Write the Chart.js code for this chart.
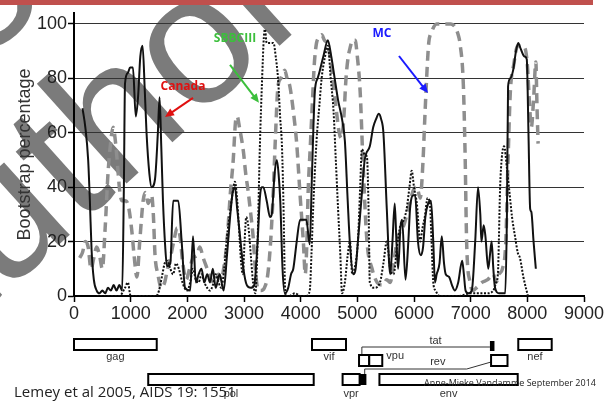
<!DOCTYPE html>
<html>
<head>
<meta charset="utf-8">
<script src="https://cdn.jsdelivr.net/npm/chart.js@4.4.0/dist/chart.umd.min.js"></script>
<style>
  body { margin: 0; background: #fff; }
  #wrap { width: 614px; height: 412px; }
</style>
</head>
<body>
<div id="wrap"><canvas id="bootscan" width="614" height="412"></canvas></div>
<script>
// genome position (nt) and bootstrap %, one pair of arrays per query
const canadaPos = [150, 200, 250, 280, 310, 350, 400, 450, 500, 550, 600, 650, 700, 750, 800, 850, 880, 900, 950, 990, 1040, 1090, 1130, 1170, 1210, 1250, 1280, 1330, 1370, 1430, 1480, 1510, 1540, 1570, 1610, 1640, 1700, 1750, 1790, 1840, 1900, 1960, 2050, 2100, 2150, 2200, 2250, 2300, 2350, 2400, 2450, 2500, 2570, 2640, 2700, 2750, 2800, 2840, 2880, 2930, 2990, 3050, 3120, 3180, 3240, 3280, 3310, 3340, 3400, 3460, 3490, 3540, 3580, 3610, 3640, 3680, 3720, 3780, 3830, 3870, 3930, 3990, 4050, 4100, 4160, 4200, 4250, 4300, 4340, 4400, 4480, 4540, 4600, 4660, 4730, 4780, 4830, 4870, 4930, 4970, 5010, 5070, 5130, 5220, 5280, 5330, 5380, 5420, 5460, 5520, 5580, 5620, 5660, 5690, 5720, 5760, 5790, 5850, 5900, 5930, 5990, 6020, 6070, 6120, 6160, 6200, 6250, 6300, 6340, 6370, 6400, 6450, 6490, 6530, 6560, 6620, 6670, 6720, 6780, 6850, 6880, 6910, 6960, 7020, 7080, 7130, 7170, 7190, 7230, 7260, 7310, 7340, 7370, 7400, 7430, 7500, 7560, 7610, 7640, 7660, 7700, 7750, 7800, 7840, 7880, 7950, 7990, 8020, 8050, 8070, 8110, 8150];
const canadaVal = [69, 62, 50, 35, 17, 6, 2, 1, 2, 1, 3, 2, 4, 2, 4, 2, 40, 78, 82, 84, 84, 66, 73, 88, 92, 75, 60, 45, 40, 43, 60, 73, 55, 35, 18, 11, 12, 35, 35, 35, 20, 3, 2, 22, 5, 8, 10, 5, 8, 5, 10, 3, 8, 2, 15, 28, 38, 40, 32, 22, 10, 4, 3, 4, 20, 36, 40, 40, 35, 29, 30, 45, 50, 45, 35, 10, 1, 3, 8, 10, 20, 28, 28, 28, 19, 45, 75, 80, 83, 88, 94, 88, 80, 72, 65, 57, 35, 19, 8, 10, 20, 35, 50, 55, 62, 65, 67, 65, 60, 32, 8, 20, 34, 20, 10, 25, 28, 6, 20, 32, 37, 37, 20, 15, 18, 29, 34, 35, 20, 5, 8, 12, 22, 12, 8, 7, 4, 2, 5, 13, 8, 2, 1, 2, 20, 40, 30, 20, 26, 22, 10, 15, 20, 10, 3, 1, 1, 1, 30, 77, 80, 83, 90, 93, 91, 88, 87, 60, 32, 31, 20, 10];

const sbbPos = [400, 800, 900, 950, 1000, 1450, 1500, 1560, 1600, 1650, 1700, 1750, 1800, 1850, 1900, 1950, 2000, 2050, 2100, 2150, 2200, 2250, 2300, 2350, 2400, 2450, 2500, 2550, 2600, 2650, 2700, 2750, 2800, 2840, 2880, 2920, 2950, 2980, 3010, 3040, 3080, 3120, 3160, 3200, 3240, 3280, 3320, 3350, 3370, 3400, 3450, 3520, 3560, 3600, 3640, 3670, 3700, 3720, 3740, 3800, 3900, 4000, 4100, 4160, 4190, 4220, 4280, 4330, 4370, 4430, 4480, 4530, 4580, 4620, 4660, 4700, 4730, 4780, 4830, 4870, 4910, 4950, 5010, 5050, 5080, 5130, 5170, 5200, 5220, 5300, 5400, 5460, 5520, 5580, 5640, 5700, 5760, 5820, 5870, 5920, 5960, 6000, 6050, 6110, 6150, 6190, 6240, 6280, 6310, 6340, 6380, 6450, 6800, 7000, 7300, 7400, 7450, 7480, 7520, 7550, 7590, 7640, 7700, 7730, 7790, 7830, 7870, 7930, 8010];
const sbbVal = [0, 0, 3, 5, 0, 0, 2, 8, 12, 13, 10, 8, 12, 10, 6, 3, 2, 5, 10, 6, 5, 8, 5, 3, 2, 4, 8, 5, 3, 10, 22, 30, 38, 42, 35, 22, 12, 8, 20, 29, 25, 15, 5, 1, 20, 55, 80, 95, 98, 93, 93, 93, 88, 80, 65, 55, 30, 6, 0, 0, 1, 0, 0, 2, 15, 32, 57, 70, 80, 88, 92, 80, 68, 50, 32, 15, 1, 5, 15, 20, 8, 10, 20, 40, 54, 52, 51, 30, 5, 3, 5, 12, 20, 10, 8, 18, 26, 28, 32, 40, 46, 40, 34, 20, 25, 29, 36, 34, 20, 5, 2, 0, 0, 1, 1, 2, 5, 8, 40, 51, 55, 47, 35, 29, 21, 16, 14, 7, 0];

const mcPos = [100, 150, 200, 250, 300, 350, 400, 450, 500, 550, 600, 640, 690, 740, 780, 810, 850, 900, 960, 1020, 1060, 1110, 1160, 1220, 1260, 1310, 1370, 1400, 1430, 1480, 1540, 1600, 1650, 1700, 1760, 1820, 1870, 1920, 1980, 2040, 2100, 2170, 2220, 2280, 2350, 2420, 2480, 2550, 2600, 2640, 2700, 2760, 2810, 2850, 2880, 2920, 2990, 3030, 3070, 3120, 3160, 3200, 3240, 3300, 3360, 3420, 3470, 3520, 3550, 3600, 3650, 3720, 3760, 3810, 3870, 3930, 3990, 4050, 4080, 4110, 4130, 4170, 4200, 4240, 4280, 4330, 4370, 4420, 4460, 4520, 4550, 4620, 4680, 4720, 4760, 4800, 4840, 4870, 4920, 4960, 5000, 5050, 5100, 5170, 5260, 5350, 5450, 5520, 5580, 5640, 5700, 5760, 5820, 5900, 5990, 6050, 6110, 6160, 6190, 6230, 6260, 6310, 6400, 6500, 6580, 6650, 6720, 6780, 6810, 6870, 6900, 6930, 6990, 7040, 7100, 7200, 7300, 7400, 7450, 7500, 7560, 7620, 7660, 7700, 7760, 7830, 7900, 7960, 8000, 8040, 8070, 8110, 8150, 8170, 8190];
const mcVal = [14, 16, 20, 18, 10, 14, 18, 15, 10, 25, 45, 55, 62, 55, 45, 38, 35, 35, 33, 24, 15, 7, 20, 35, 38, 34, 37, 30, 15, 8, 3, 5, 10, 14, 20, 25, 22, 12, 6, 10, 14, 15, 18, 14, 10, 6, 5, 8, 6, 10, 20, 38, 50, 64, 66, 62, 53, 45, 39, 30, 22, 10, 3, 2, 3, 8, 20, 40, 56, 77, 80, 83, 80, 77, 68, 56, 37, 19, 8, 20, 37, 55, 68, 85, 93, 95, 96, 94, 93, 88, 83, 70, 60, 58, 65, 80, 88, 91, 94, 94, 88, 75, 49, 20, 10, 5, 4, 6, 5, 12, 20, 24, 26, 32, 39, 40, 36, 50, 65, 83, 93, 97, 100, 100, 100, 100, 99, 96, 93, 78, 54, 19, 5, 2, 3, 5, 6, 8, 5, 8, 10, 20, 50, 75, 85, 92, 92, 91, 85, 70, 62, 72, 86, 70, 56];

const xTicks = [0, 1000, 2000, 3000, 4000, 5000, 6000, 7000, 8000, 9000];
const yTicks = [0, 20, 40, 60, 80, 100];

// genome map below the axis (alignment positions)
const geneName = ['gag', 'vif', 'nef', '', 'vpu', '', 'pol', 'vpr', 'env'];
const geneFrom = [0, 4200, 7840, 5030, 5210, 7360, 1310, 4740, 5390];
const geneTo   = [1460, 4800, 8430, 5210, 5440, 7650, 4230, 5040, 7830];
const geneRow  = [0, 0, 0, 1, 1, 1, 2, 2, 2];

// annotation labels: text, colour, label position, arrow tail, arrow head (data units)
const noteText  = ['Canada', 'SBBCIII', 'MC'];
const noteColor = ['#e01010', '#3cbf3c', '#1a1aff'];
const noteAt    = [[1923, 77], [2841, 94.5], [5435, 96.3]];
const noteFrom  = [[2100, 72.8], [2753, 84.9], [5735, 88.2]];
const noteTo    = [[1606, 65.8], [3265, 71], [6247, 74.6]];

function toPoints(pos, val) {
  return pos.map((p, i) => ({ x: p, y: val[i] }));
}

function arrow(ctx, x1, y1, x2, y2, color) {
  const a = Math.atan2(y2 - y1, x2 - x1);
  ctx.strokeStyle = color;
  ctx.fillStyle = color;
  ctx.lineWidth = 2;
  ctx.setLineDash([]);
  ctx.beginPath();
  ctx.moveTo(x1, y1);
  ctx.lineTo(x2 - 6 * Math.cos(a), y2 - 6 * Math.sin(a));
  ctx.stroke();
  ctx.beginPath();
  ctx.moveTo(x2, y2);
  ctx.lineTo(x2 - 9 * Math.cos(a) + 4 * Math.sin(a), y2 - 9 * Math.sin(a) - 4 * Math.cos(a));
  ctx.lineTo(x2 - 9 * Math.cos(a) - 4 * Math.sin(a), y2 - 9 * Math.sin(a) + 4 * Math.cos(a));
  ctx.closePath();
  ctx.fill();
}

// slide watermark, drawn under everything
const watermark = {
  id: 'watermark',
  beforeDraw(chart) {
    const ctx = chart.ctx;
    ctx.save();
    ctx.translate(-74, 364);
    ctx.rotate(-42 * Math.PI / 180);
    ctx.font = '185px "Liberation Sans", Arial, sans-serif';
    ctx.fillStyle = 'rgba(100,100,100,0.85)';
    ctx.textBaseline = 'alphabetic';
    ctx.fillText('author', 0, 0);
    ctx.fillText('o', 236, -186);
    ctx.restore();
  }
};

const extras = {
  id: 'extras',
  afterDraw(chart) {
    const ctx = chart.ctx;
    const xs = chart.scales.x, ys = chart.scales.y;
    const px = v => xs.getPixelForValue(v);
    const py = v => ys.getPixelForValue(v);
    ctx.save();

    // red rule at top of the slide
    ctx.fillStyle = '#c0504d';
    ctx.fillRect(0, 0, 593, 5);

    // annotations
    ctx.font = 'bold 12px "Open Sans", Arial, sans-serif';
    ctx.textAlign = 'center';
    ctx.textBaseline = 'middle';
    noteText.forEach((t, i) => {
      ctx.fillStyle = noteColor[i];
      ctx.fillText(t, px(noteAt[i][0]), py(noteAt[i][1]));
      arrow(ctx, px(noteFrom[i][0]), py(noteFrom[i][1]), px(noteTo[i][0]), py(noteTo[i][1]), noteColor[i]);
    });

    // genome map
    const rowTop = [339, 355, 374];
    const boxH = 11;
    ctx.setLineDash([]);
    // tat and rev splice connectors
    ctx.lineWidth = 1;
    ctx.strokeStyle = '#333';
    ctx.beginPath();
    ctx.moveTo(px(5080), rowTop[1]);
    ctx.lineTo(px(5080), 347);
    ctx.lineTo(px(7340), 347);
    ctx.moveTo(px(5130), rowTop[2]);
    ctx.lineTo(px(5130), 369);
    ctx.lineTo(px(6930), 369);
    ctx.lineTo(px(7360), 362);
    ctx.stroke();

    ctx.lineWidth = 2;
    ctx.strokeStyle = '#000';
    geneFrom.forEach((g, i) => {
      const x0 = px(g), x1 = px(geneTo[i]);
      const y0 = rowTop[geneRow[i]];
      ctx.fillStyle = '#fff';
      ctx.fillRect(x0, y0, x1 - x0, boxH);
      ctx.strokeRect(x0, y0, x1 - x0, boxH);
    });
    // filled exon pieces
    ctx.fillStyle = '#000';
    ctx.fillRect(px(5040), rowTop[2], px(5160) - px(5040), boxH);
    ctx.fillRect(px(7340), 341, px(7420) - px(7340), 10);

    ctx.font = '11px "Liberation Sans", Arial, sans-serif';
    ctx.fillStyle = '#333';
    ctx.textAlign = 'center';
    ctx.textBaseline = 'middle';
    geneName.forEach((n, i) => {
      if (!n) return;
      const mid = (px(geneFrom[i]) + px(geneTo[i])) / 2;
      if (n === 'vpu') {
        ctx.textAlign = 'left';
        ctx.fillText(n, px(geneTo[i]) + 4, 356);
        ctx.textAlign = 'center';
      } else if (geneRow[i] === 0) {
        ctx.fillText(n, mid, 357);
      } else {
        ctx.fillText(n, mid, 394);
      }
    });
    ctx.fillText('tat', px(6380), 341);
    ctx.fillText('rev', px(6420), 362);

    // citation texts
    ctx.textAlign = 'left';
    ctx.fillStyle = '#222';
    ctx.font = '15px "Open Sans", Arial, sans-serif';
    ctx.fillText('Lemey et al 2005, AIDS 19: 1551', 14, 393);
    ctx.font = '9px "Open Sans", Arial, sans-serif';
    ctx.fillText('Anne-Mieke Vandamme September 2014', 424, 383);
    ctx.restore();
  }
};

const tickFont = { family: '"Liberation Sans", Arial, sans-serif', size: 18 };

new Chart(document.getElementById('bootscan'), {
  type: 'line',
  data: {
    datasets: [
      {
        label: 'Canada',
        data: toPoints(canadaPos, canadaVal),
        borderColor: '#111',
        borderWidth: 2,
        pointRadius: 0,
        cubicInterpolationMode: 'monotone',
        tension: 0.3
      },
      {
        label: 'SBBCIII',
        data: toPoints(sbbPos, sbbVal),
        borderColor: '#111',
        borderWidth: 2,
        borderDash: [2, 1.6],
        pointRadius: 0,
        cubicInterpolationMode: 'monotone',
        tension: 0.3
      },
      {
        label: 'MC',
        data: toPoints(mcPos, mcVal),
        borderColor: '#8e8e8e',
        borderWidth: 3.5,
        borderDash: [10, 6],
        pointRadius: 0,
        cubicInterpolationMode: 'monotone',
        tension: 0.3
      }
    ]
  },
  options: {
    responsive: false,
    animation: false,
    layout: { padding: { left: 0, right: 30, top: 13, bottom: 0 } },
    plugins: { legend: { display: false }, tooltip: { enabled: false } },
    scales: {
      x: {
        type: 'linear',
        min: 0,
        max: 9000,
        afterBuildTicks: s => { s.ticks = xTicks.map(v => ({ value: v })); },
        afterFit: s => { s.height = 116; },
        ticks: { font: tickFont, color: '#222', padding: 1, maxRotation: 0, autoSkip: false, callback: v => String(v) },
        grid: { drawOnChartArea: false, drawTicks: true, tickLength: 6, tickColor: '#000', tickWidth: 1.5 },
        border: { color: '#000', width: 2 }
      },
      y: {
        min: 0,
        max: 104,
        afterBuildTicks: s => { s.ticks = yTicks.map(v => ({ value: v })); },
        afterFit: s => { s.width = 74; },
        ticks: { font: tickFont, color: '#222', padding: 1, callback: v => String(v) },
        grid: { color: '#333', lineWidth: 1, tickLength: 6, tickColor: '#000', tickWidth: 1.5 },
        border: { color: '#000', width: 2 },
        title: {
          display: true,
          text: 'Bootstrap percentage',
          font: { family: '"Liberation Sans", Arial, sans-serif', size: 18 },
          color: '#333',
          padding: { top: 14, bottom: 0 }
        }
      }
    }
  },
  plugins: [watermark, extras]
});
</script>
</body>
</html>
